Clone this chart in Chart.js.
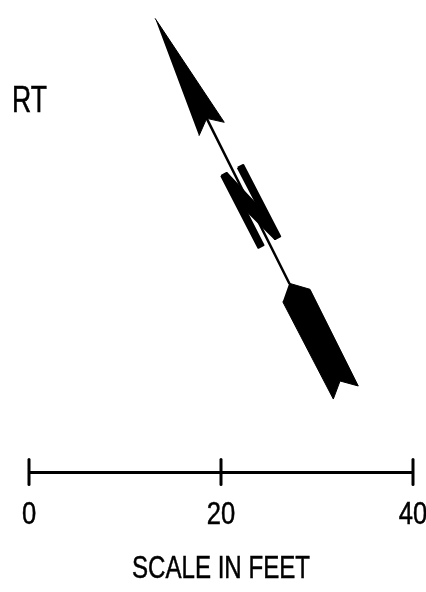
<!DOCTYPE html>
<html>
<head>
<meta charset="utf-8">
<title>Scale in feet</title>
<script src="https://cdn.jsdelivr.net/npm/chart.js@4"></script>
<style>
    body { margin: 0; background: #fff; }
    canvas { display: block; }
</style>
</head>
<body>
<canvas id="plan" width="426" height="592"></canvas>
<script>
// everything is in feet, read against the scale bar
const scaleTicks = [0, 20, 40];
const scaleLabel = 'SCALE IN FEET';
const tickHalf = 1.3;

const arrowHead = [[13.13, 47.26], [20.34, 36.43], [18.51, 36.84], [17.71, 35.03]];
const arrowShaft = [[18.51, 36.84], [27.11, 19.66]];
const arrowTail = [[27.11, 19.66], [29.27, 19.03], [34.30, 8.96], [32.40, 9.48], [31.70, 7.60], [26.43, 17.74]];
const letterLeft = [[20.02, 30.85], [20.59, 31.15], [24.43, 23.63], [23.89, 23.36]];
const letterRight = [[21.75, 31.70], [22.32, 31.98], [26.17, 24.54], [25.63, 24.27]];
const letterDiagonal = [[20.59, 31.15], [23.54, 28.0], [25.63, 24.27], [22.60, 27.3]];

const noteText = 'RT';
const noteX = -1.77;
const noteY = 37.5;

// baselines of the text under the bar
const tickLabelY = -5.4;
const scaleLabelY = -11;

const FONT = '"Liberation Sans", sans-serif';

function toPoints(pairs) {
    return pairs.map(p => ({ x: p[0], y: p[1] }));
}

function shape(pairs, edge) {
    return {
        data: toPoints(pairs),
        showLine: true,
        fill: 'shape',
        backgroundColor: '#000',
        borderColor: '#000',
        borderWidth: edge,
        borderJoinStyle: 'round',
        pointRadius: 0,
        clip: false
    };
}

function stroke(pairs, width) {
    return {
        data: toPoints(pairs),
        showLine: true,
        borderColor: '#000',
        borderWidth: width,
        borderCapStyle: 'round',
        pointRadius: 0,
        clip: false
    };
}

const datasets = [
    stroke(arrowShaft, 2.5),
    shape(arrowHead, 1),
    shape(arrowTail, 1),
    shape(letterLeft.concat([letterLeft[0]]), 2),
    shape(letterRight.concat([letterRight[0]]), 2),
    shape(letterDiagonal.concat([letterDiagonal[0]]), 2)
];
scaleTicks.forEach(t => {
    datasets.push(stroke([[t, -tickHalf], [t, tickHalf]], 3));
});

// no narrow font is installed, so squeeze the text sideways by hand
function narrowText(ctx, text, x, y, size, squeeze, align) {
    ctx.save();
    ctx.fillStyle = '#000';
    ctx.strokeStyle = '#000';
    ctx.lineWidth = 0.5;
    ctx.font = size + 'px ' + FONT;
    ctx.textAlign = align;
    ctx.textBaseline = 'alphabetic';
    ctx.translate(x, y);
    ctx.scale(squeeze, 1);
    ctx.fillText(text, 0, 0);
    ctx.strokeText(text, 0, 0);
    ctx.restore();
}

const textPlugin = {
    id: 'planText',
    afterDatasetsDraw(chart) {
        const ctx = chart.ctx;
        const x = chart.scales.x;
        const y = chart.scales.y;
        narrowText(ctx, noteText, x.getPixelForValue(noteX), y.getPixelForValue(noteY), 37, 0.72, 'left');
        scaleTicks.forEach(t => {
            narrowText(ctx, String(t), x.getPixelForValue(t), y.getPixelForValue(tickLabelY), 32, 0.8, 'center');
        });
        narrowText(ctx, scaleLabel, x.getPixelForValue(20), y.getPixelForValue(scaleLabelY), 31.5, 0.765, 'center');
    }
};

new Chart(document.getElementById('plan'), {
    type: 'scatter',
    data: { datasets: datasets },
    plugins: [textPlugin],
    options: {
        responsive: false,
        animation: false,
        layout: { padding: { left: 29, right: 13, top: 0, bottom: 0 } },
        plugins: { legend: { display: false }, tooltip: { enabled: false } },
        scales: {
            x: {
                type: 'linear',
                min: 0,
                max: 40,
                afterBuildTicks: axis => { axis.ticks = scaleTicks.map(v => ({ value: v })); },
                afterFit: axis => {
                    axis.height = 120;
                    axis.paddingLeft = 0;
                    axis.paddingRight = 0;
                },
                grid: { display: false, drawTicks: false },
                border: { display: true, color: '#000', width: 3 },
                ticks: { display: false }
            },
            y: {
                display: false,
                min: 0,
                max: 49.17
            }
        }
    }
});
</script>
</body>
</html>
